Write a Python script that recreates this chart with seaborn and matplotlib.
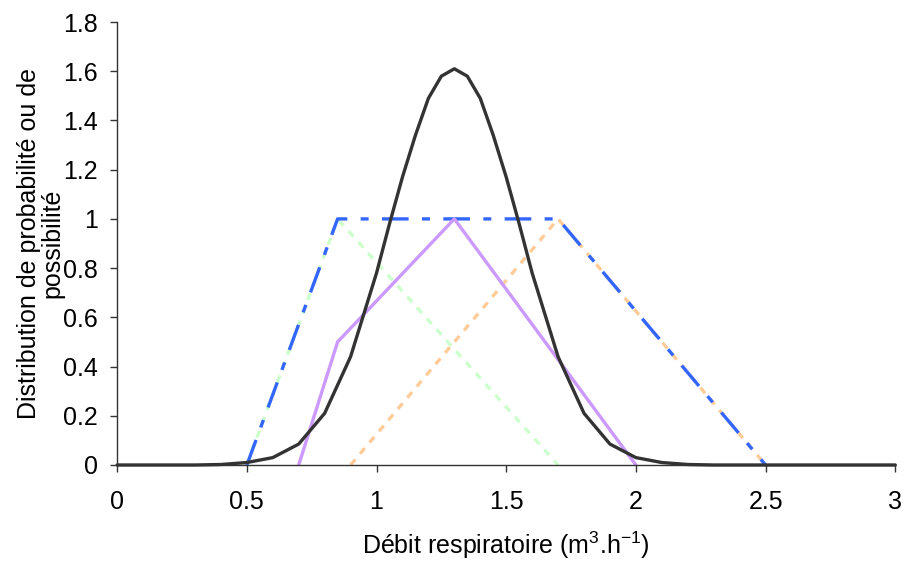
import matplotlib
matplotlib.use("Agg")
import matplotlib.pyplot as plt
import seaborn as sns

# Courbe de probabilité (noire)
x_proba = [0.0, 0.1, 0.2, 0.3, 0.4, 0.5, 0.6, 0.7, 0.8, 0.9, 1.0,
           1.05, 1.1, 1.15, 1.2, 1.25, 1.3, 1.35, 1.4, 1.45, 1.5, 1.55,
           1.6, 1.7, 1.8, 1.9, 2.0, 2.1, 2.2, 2.3, 2.4, 2.5, 2.6, 2.7, 2.8, 2.9, 3.0]
y_proba = [0.0, 0.0, 0.0, 0.0, 0.002, 0.01, 0.03, 0.085, 0.21, 0.44, 0.78,
           0.98, 1.17, 1.34, 1.49, 1.58, 1.61, 1.58, 1.49, 1.34, 1.17, 0.98,
           0.78, 0.44, 0.21, 0.085, 0.03, 0.01, 0.002, 0.0, 0.0, 0.0, 0.0, 0.0, 0.0, 0.0, 0.0]

# Distributions de possibilité
x_trap = [0.5, 0.85, 1.7, 2.5]
y_trap = [0, 1, 1, 0]
x_vert = [0.5, 0.85, 1.7]
y_vert = [0, 1, 0]
x_orange = [0.9, 1.7, 2.5]
y_orange = [0, 1, 0]
x_violet = [0.7, 0.85, 1.3, 2.0]
y_violet = [0, 0.5, 1, 0]

x_ticks = [0, 0.5, 1, 1.5, 2, 2.5, 3]
x_ticklabels = ['0', '0.5', '1', '1.5', '2', '2.5', '3']
y_ticks = [0, 0.2, 0.4, 0.6, 0.8, 1.0, 1.2, 1.4, 1.6, 1.8]
y_ticklabels = ['0', '0.2', '0.4', '0.6', '0.8', '1', '1.2', '1.4', '1.6', '1.8']

sns.set_theme(style="ticks")
plt.rcParams['font.family'] = ['Liberation Sans', 'DejaVu Sans']
plt.rcParams['mathtext.default'] = 'regular'

fig = plt.figure(figsize=(9.08, 5.65), dpi=100)
ax = fig.add_axes([0.129, 0.177, 0.857, 0.784])

sns.lineplot(x=x_vert, y=y_vert, ax=ax, color='#CCFFCC', lw=2.4,
             linestyle=(0, (2.2, 2.2)), sort=False, estimator=None)
sns.lineplot(x=x_orange, y=y_orange, ax=ax, color='#FFCC99', lw=2.4,
             linestyle=(0, (2.2, 2.2)), sort=False, estimator=None)
sns.lineplot(x=x_trap, y=y_trap, ax=ax, color='#3366FF', lw=2.4,
             linestyle=(0, (8, 4, 2.4, 4)), sort=False, estimator=None)
sns.lineplot(x=x_violet, y=y_violet, ax=ax, color='#CC99FF', lw=2.4,
             sort=False, estimator=None)
sns.lineplot(x=x_proba, y=y_proba, ax=ax, color='#333333', lw=2.4,
             sort=False, estimator=None, clip_on=False)

ax.set_xlim(0, 3)
ax.set_ylim(0, 1.8)
ax.set_xticks(x_ticks)
ax.set_xticklabels(x_ticklabels)
ax.set_yticks(y_ticks)
ax.set_yticklabels(y_ticklabels)
ax.tick_params(axis='both', labelsize=18, length=5, width=1, color='#333333',
               labelcolor='black', direction='out')
ax.tick_params(axis='x', pad=13)
ax.tick_params(axis='y', pad=9)
sns.despine(ax=ax)
for s in ['left', 'bottom']:
    ax.spines[s].set_color('#333333')
    ax.spines[s].set_linewidth(1)

ax.set_xlabel('Débit respiratoire (m$^{3}$.h$^{-1}$)', fontsize=18,
              color='black', labelpad=11)
ax.set_ylabel('Distribution de probabilité ou de\npossibilité', fontsize=18,
              color='black', linespacing=0.95)
ax.yaxis.set_label_coords(-0.068, 0.5)

fig.savefig('out.png', dpi=100)
